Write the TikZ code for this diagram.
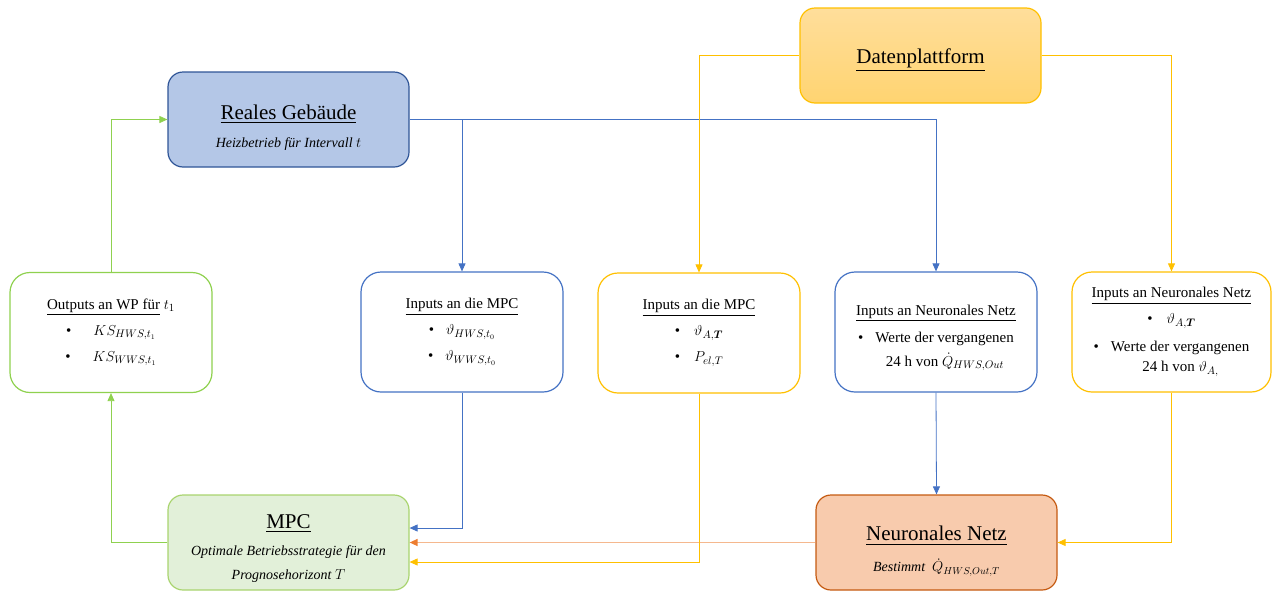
\documentclass[tikz,border=0pt]{standalone}
\usepackage{amsmath,amssymb}
\usepackage{fontspec}
\setmainfont{Liberation Serif}
\usepackage{tikz}
\usetikzlibrary{arrows.meta}
\usetikzlibrary{positioning}

\definecolor{bgblue}{HTML}{B4C7E7}
\definecolor{bdblue}{HTML}{2F5597}
\definecolor{lnblue}{HTML}{4472C4}
\definecolor{lnyellow}{HTML}{FFC000}
\definecolor{lngreen}{HTML}{8FD14F}
\definecolor{bggreen}{HTML}{E2F0D9}
\definecolor{bdgreen}{HTML}{A9D46F}
\definecolor{bgorange}{HTML}{F8CBAD}
\definecolor{bdorange}{HTML}{C55A11}
\definecolor{lnorange}{HTML}{ED7D31}
\definecolor{dtop}{HTML}{FFDE9B}
\definecolor{dbot}{HTML}{FFD471}

\newcommand{\titlefont}{\fontsize{21}{25}\selectfont}
\newcommand{\subfont}{\fontsize{14}{18}\selectfont\itshape}
\newcommand{\infont}{\fontsize{15}{26}\selectfont}

\begin{document}
\begin{tikzpicture}[
    x=1pt, y=-1pt,
    mainbox/.style={draw, line width=1.2pt, rounded corners=15pt, minimum width=241pt, minimum height=95pt, align=center, inner sep=2pt, font=\fontsize{14}{24}\selectfont},
    inbox/.style={draw, line width=1.2pt, fill=white, rounded corners=20pt, minimum width=202pt, minimum height=120pt, align=center, inner sep=2pt, font=\infont},
    conn/.style={-{Triangle[length=8pt,width=7pt]}, line width=0.8pt}
]
\useasboundingbox (0,0) rectangle (1272,592);

% Main blocks
\node[mainbox, fill=bgblue, draw=bdblue] (real) at (288.5,119.5)
  {{\titlefont\rule{0pt}{30pt}\underline{Reales Gebäude}}\\[4pt]{\subfont Heizbetrieb für Intervall $t$}};
\node[mainbox, draw=lnyellow, top color=dtop, bottom color=dbot] (daten) at (920.5,55.5)
  {{\titlefont\rule{0pt}{24pt}\underline{Datenplattform}}};
\node[mainbox, fill=bggreen, draw=bdgreen] (mpc) at (288.5,542.5)
  {{\titlefont\rule{0pt}{26pt}\underline{MPC}}\\[3pt]{\subfont Optimale Betriebsstrategie für den}\\{\subfont Prognosehorizont $T$}};
\node[mainbox, fill=bgorange, draw=bdorange] (nn) at (936.5,542.5)
  {{\titlefont\rule{0pt}{32pt}\underline{Neuronales Netz}}\\[7pt]{\subfont Bestimmt\ \ $\dot{Q}_{HWS,Out,T}$}};

% Input / output blocks
\node[inbox, draw=lngreen] (outwp) at (111,332.5)
  {\underline{Outputs an WP für} $t_1$\\
   \textbullet\hspace{22pt}$KS_{HWS,t_1}$\\
   \textbullet\hspace{22pt}$KS_{WWS,t_1}$};
\node[inbox, draw=lnblue] (inmpcb) at (462,332)
  {\underline{Inputs an die MPC}\\
   \textbullet\hspace{12pt}$\vartheta_{HWS,t_0}$\\
   \textbullet\hspace{12pt}$\vartheta_{WWS,t_0}$};
\node[inbox, draw=lnyellow] (inmpcy) at (699,333)
  {\underline{Inputs an die MPC}\\
   \textbullet\hspace{14pt}$\vartheta_{A,\boldsymbol{T}}$\\
   \textbullet\hspace{14pt}$P_{el,T}$};
\node[inbox, draw=lnblue, font=\fontsize{15}{21}\selectfont] (innnb) at (936,332)
  {\rule{0pt}{22pt}\underline{Inputs an Neuronales Netz}\\[6pt]
   \textbullet\hspace{12pt}Werte der vergangenen\\[3pt]
   \hspace{18pt}24 h von $\dot{Q}_{HWS,Out}$};
\node[inbox, draw=lnyellow, minimum width=199pt, font=\fontsize{15}{20}\selectfont] (innny) at (1171.5,332)
  {\underline{Inputs an Neuronales Netz}\\[6pt]
   \textbullet\hspace{14pt}$\vartheta_{A,\boldsymbol{T}}$\\[8pt]
   \textbullet\hspace{12pt}Werte der vergangenen\\
   \hspace{18pt}24 h von $\vartheta_{A,}$};

% Green loop
\draw[conn, lngreen] (outwp.north) |- (real.west);
\draw[conn, lngreen] (mpc.west) -| (outwp.south);

% Building data
\draw[conn, lnblue] (real.east) -| (innnb.north);
\draw[conn, lnblue] (real.east -| inmpcb.north) -- (inmpcb.north);

% Data platform
\draw[conn, lnyellow] (daten.west) -| (inmpcy.north);
\draw[conn, lnyellow] (daten.east) -| (innny.north);

% Inputs to MPC and network
\draw[conn, lnblue] (inmpcb.south) |- ([yshift=14.5pt]mpc.east);
\draw[conn, lnblue] (innnb.south) -- (nn.north);
\draw[conn, lnorange!55, -{Triangle[length=8pt,width=7pt,color=lnorange]}, line width=1.4pt] (nn.west) -- (mpc.east);
\draw[conn, lnyellow] (inmpcy.south) |- ([yshift=-19.5pt]mpc.east);
\draw[conn, lnyellow] (innny.south) |- (nn.east);

\end{tikzpicture}
\end{document}
